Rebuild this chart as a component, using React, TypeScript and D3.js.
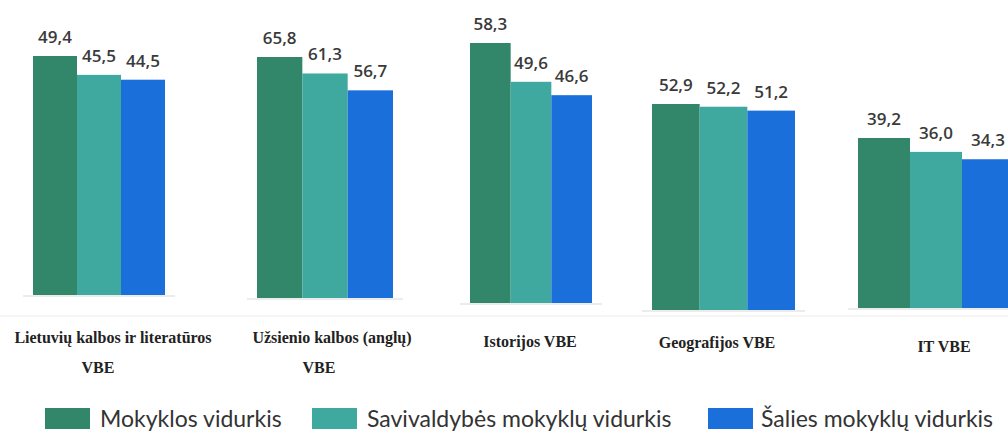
import React from 'react';
import * as d3 from 'd3';

// subjects (line breaks as in the original)
const categories = [
  ['Lietuvių kalbos ir literatūros', 'VBE'],
  ['Užsienio kalbos (anglų)', 'VBE'],
  ['Istorijos VBE'],
  ['Geografijos VBE'],
  ['IT VBE'],
];
const seriesNames = ['Mokyklos vidurkis', 'Savivaldybės mokyklų vidurkis', 'Šalies mokyklų vidurkis'];
const schoolAvg = [49.4, 65.8, 58.3, 52.9, 39.2];
const municipalityAvg = [45.5, 61.3, 49.6, 52.2, 36.0];
const countryAvg = [44.5, 56.7, 46.6, 51.2, 34.3];
const colors = ['#32876a', '#3fa89f', '#1b6fdb'];

// each small chart has its own scale in the source picture
const panels = [
  { x0: 33, x1: 165, base: 295, top: 56, labelX: [113, 98], labelY: 343 },
  { x0: 257, x1: 393, base: 298, top: 57, labelX: [332, 319], labelY: 343 },
  { x0: 470, x1: 592, base: 303, top: 43, labelX: [530], labelY: 347 },
  { x0: 652, x1: 795, base: 310, top: 104, labelX: [717], labelY: 348 },
  { x0: 858, x1: 1014, base: 308, top: 138, labelX: [944], labelY: 352 },
];

const legendPos = [{ x: 45, tx: 100 }, { x: 312, tx: 367 }, { x: 708, tx: 761 }];

const fmt = (v: number) => d3.format('.1f')(v).replace('.', ',');

export default function App() {
  const width = 1008, height = 438;
  const allSeries = [schoolAvg, municipalityAvg, countryAvg];

  return (
    <svg width={width} height={height} style={{ position: 'absolute', left: 0, top: 0, background: '#fff' }}>
      <line x1={0} x2={width} y1={316} y2={316} stroke="#ececec" strokeWidth={1} />
      {categories.map((cat, i) => {
        const p = panels[i];
        const vals = allSeries.map(s => s[i]);
        const x = d3.scaleBand<string>().domain(seriesNames).range([p.x0, p.x1]).padding(0);
        const y = d3.scaleLinear().domain([0, d3.max(vals) as number]).range([p.base, p.top]);
        return (
          <g key={i}>
            <line x1={p.x0 - 10} x2={p.x1 + 10} y1={p.base + 1} y2={p.base + 1} stroke="#d9d9d9" />
            {seriesNames.map((s, j) => (
              <g key={s}>
                <rect x={x(s)} y={y(vals[j])} width={x.bandwidth()} height={p.base - y(vals[j])} fill={colors[j]} />
                <text
                  x={(x(s) as number) + x.bandwidth() / 2}
                  y={y(vals[j]) - 13}
                  textAnchor="middle"
                  fontFamily="'Open Sans', sans-serif"
                  fontWeight={600}
                  fontSize={17}
                  fill="#3a3a3a"
                >
                  {fmt(vals[j])}
                </text>
              </g>
            ))}
            {cat.map((line, k) => (
              <text
                key={k}
                x={p.labelX[k]}
                y={p.labelY + k * 30}
                textAnchor="middle"
                fontFamily="'Liberation Serif', serif"
                fontWeight="bold"
                fontSize={16}
                fill="#222"
              >
                {line}
              </text>
            ))}
          </g>
        );
      })}
      {seriesNames.map((s, j) => (
        <g key={s}>
          <rect x={legendPos[j].x} y={408} width={45} height={21} fill={colors[j]} />
          <text x={legendPos[j].tx} y={427} fontFamily="Lato, sans-serif" fontSize={23} fill="#333">
            {s}
          </text>
        </g>
      ))}
    </svg>
  );
}
